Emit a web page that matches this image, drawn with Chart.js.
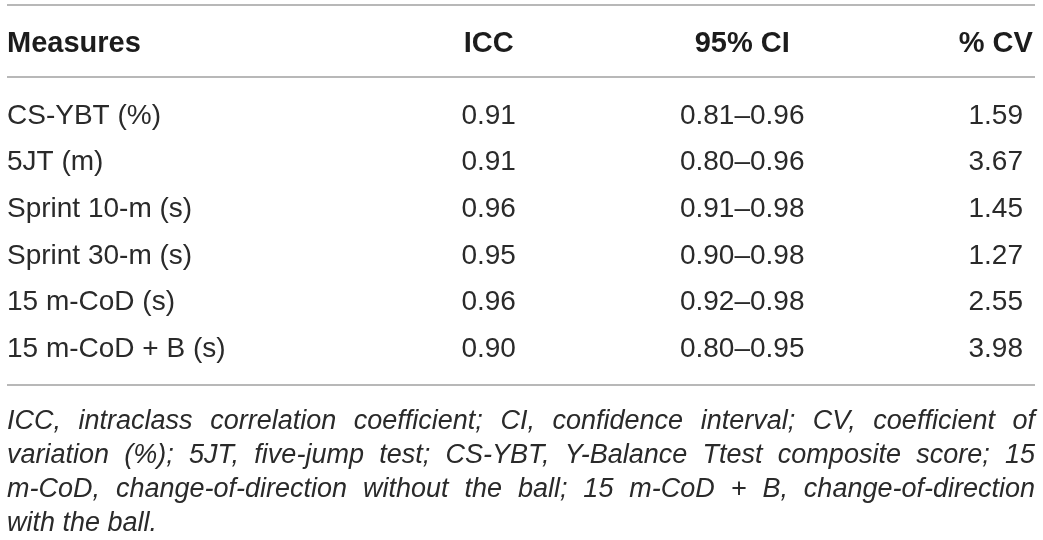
<!DOCTYPE html>
<html>
<head>
<meta charset="utf-8">
<script src="https://cdn.jsdelivr.net/npm/chart.js@4.4.1/dist/chart.umd.min.js"></script>
<style>
  html, body { margin: 0; background: #fff; }
  #wrap { width: 1043px; height: 540px; }
</style>
</head>
<body>
<div id="wrap"><canvas id="table"></canvas></div>
<script>
const rowHeader = 'Measures';
const columns = ['ICC', '95% CI', '% CV'];
const measures = ['CS-YBT (%)', '5JT (m)', 'Sprint 10-m (s)', 'Sprint 30-m (s)', '15 m-CoD (s)', '15 m-CoD + B (s)'];
const icc = [0.91, 0.91, 0.96, 0.95, 0.96, 0.90];
const ciLow = [0.81, 0.80, 0.91, 0.90, 0.92, 0.80];
const ciHigh = [0.96, 0.96, 0.98, 0.98, 0.98, 0.95];
const cv = [1.59, 3.67, 1.45, 1.27, 2.55, 3.98];
const footnote = [
  'ICC, intraclass correlation coefficient; CI, confidence interval; CV, coefficient of',
  'variation (%); 5JT, five-jump test; CS-YBT, Y-Balance Ttest composite score; 15',
  'm-CoD, change-of-direction without the ball; 15 m-CoD + B, change-of-direction',
  'with the ball.'
];

const fmt = v => v.toFixed(2);
const cellText = [
  icc.map(fmt),
  ciLow.map((lo, i) => fmt(lo) + '\u2013' + fmt(ciHigh[i])),
  cv.map(fmt)
];

const FONT = '"Liberation Sans", Arial, sans-serif';
const INK = '#2a2a2a';

// draws rules, header, cells and the note at positions taken from the scales
const tablePlugin = {
  id: 'tableText',
  afterDatasetsDraw(chart) {
    const { ctx, chartArea: a, scales: { x, y } } = chart;
    ctx.save();

    ctx.strokeStyle = '#a0a0a0';
    ctx.lineWidth = 1.6;
    [a.top - 108.5, a.top - 36.5, a.bottom + 38].forEach(yy => {
      ctx.beginPath();
      ctx.moveTo(a.left, yy);
      ctx.lineTo(a.right, yy);
      ctx.stroke();
    });

    // header
    ctx.fillStyle = '#1c1c1c';
    ctx.font = 'bold 29px ' + FONT;
    const headBase = a.top - 61.5;
    ctx.textAlign = 'left';
    ctx.fillText(rowHeader, a.left, headBase);
    ctx.textAlign = 'center';
    columns.forEach((c, i) => ctx.fillText(c, x.getPixelForValue(i), headBase));

    // body rows
    ctx.fillStyle = INK;
    ctx.font = '28px ' + FONT;
    ctx.textAlign = 'left';
    measures.forEach((m, r) => ctx.fillText(m, a.left, y.getPixelForValue(r) + 10));
    ctx.textAlign = 'center';
    chart.data.datasets.forEach((ds, c) => {
      chart.getDatasetMeta(c).data.forEach((pt, r) => {
        ctx.fillText(cellText[c][r], pt.x, pt.y + 10);
      });
    });

    // note, justified like the journal layout
    ctx.font = 'italic 27px ' + FONT;
    ctx.textAlign = 'left';
    footnote.forEach((line, i) => {
      const base = a.bottom + 82 + i * 34;
      if (i === footnote.length - 1) {
        ctx.fillText(line, a.left, base);
        return;
      }
      const words = line.split(' ');
      const widths = words.map(w => ctx.measureText(w).width);
      const total = widths.reduce((s, w) => s + w, 0);
      const gap = (a.right - a.left - total) / (words.length - 1);
      let xx = a.left;
      words.forEach((w, k) => {
        ctx.fillText(w, xx, base);
        xx += widths[k] + gap;
      });
    });

    ctx.restore();
  }
};

new Chart(document.getElementById('table'), {
  type: 'scatter',
  data: {
    datasets: columns.map((c, ci) => ({
      label: c,
      data: measures.map(m => ({ x: ci, y: m })),
      pointRadius: 0,
      pointHoverRadius: 0
    }))
  },
  options: {
    responsive: true,
    maintainAspectRatio: false,
    animation: false,
    events: [],
    layout: { padding: { left: 7, right: 8, top: 113.5, bottom: 193 } },
    plugins: { legend: { display: false }, tooltip: { enabled: false } },
    scales: {
      x: { type: 'linear', min: -1.9, max: 2.155, display: false },
      y: { type: 'category', labels: measures, offset: false, display: false }
    }
  },
  plugins: [tablePlugin]
});
</script>
</body>
</html>
